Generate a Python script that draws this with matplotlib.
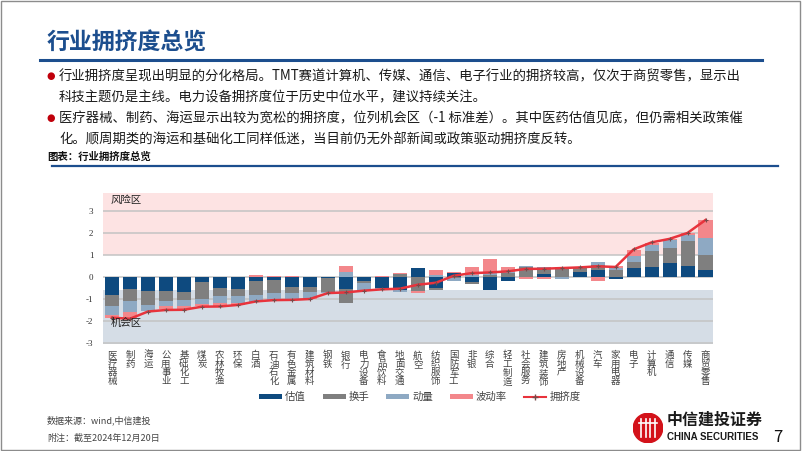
import numpy as np
import matplotlib
matplotlib.use("Agg")
import matplotlib.pyplot as plt
from matplotlib.patches import Rectangle, Circle, Patch
from matplotlib.lines import Line2D

plt.rcParams['font.family'] = ['Noto Sans CJK SC', 'DejaVu Sans']

industries = ["医疗器械", "制药", "海运", "公用事业", "基础化工", "煤炭", "农林牧渔", "环保",
              "白酒", "石油石化", "有色金属", "建筑材料", "钢铁", "银行", "电力设备", "食品饮料",
              "地面交通", "航空", "纺织服饰", "国防军工", "非银", "综合", "轻工制造", "社会服务",
              "建筑装饰", "房地产", "机械设备", "汽车", "家用电器", "电子", "计算机", "通信",
              "传媒", "商贸零售"]

valuation = [-0.83, -0.55, -0.65, -0.65, -0.68, -0.22, -0.50, -0.53,
             -0.20, -0.15, -0.46, -0.46, -0.03, -0.55, -0.20, -0.50,
             -0.58, 0.41, -0.50, 0.18, -0.24, -0.61, -0.20, 0.02,
             0.15, 0.00, 0.21, 0.33, -0.09, 0.41, 0.44, 0.64,
             0.49, 0.33]
turnover = [-0.48, -0.56, -0.62, -0.46, -0.35, -0.80, -0.38, -0.35,
            -0.61, -0.58, -0.27, -0.20, -0.67, -0.64, -0.08, -0.02,
            0.12, -0.65, -0.08, -0.06, -0.06, 0.10, 0.18, 0.45,
            0.27, 0.41, 0.20, 0.23, 0.30, 0.26, 0.73, 0.68,
            1.14, 0.68]
momentum = [-0.41, -0.46, -0.27, -0.20, -0.31, -0.20, -0.31, -0.28,
            -0.32, -0.30, -0.30, -0.30, -0.03, 0.23, -0.30, -0.08,
            -0.12, 0.00, 0.10, -0.12, 0.10, 0.08, 0.05, 0.02,
            0.02, -0.08, 0.03, 0.11, 0.12, 0.27, 0.30, 0.35,
            0.30, 0.76]
volatility = [-0.15, -0.30, 0.00, -0.15, -0.12, -0.12, -0.15, -0.10,
              0.10, 0.03, 0.05, -0.04, 0.00, 0.26, 0.00, 0.06,
              0.06, -0.08, 0.23, 0.04, 0.36, 0.64, 0.22, -0.09,
              -0.08, 0.07, 0.00, -0.20, 0.10, 0.30, 0.10, 0.05,
              0.07, 0.81]
crowding = [-1.85, -1.90, -1.57, -1.50, -1.49, -1.35, -1.34, -1.27,
            -1.11, -1.05, -1.04, -1.00, -0.73, -0.70, -0.62, -0.56,
            -0.53, -0.35, -0.26, 0.06, 0.18, 0.21, 0.26, 0.37,
            0.38, 0.41, 0.44, 0.49, 0.46, 1.26, 1.58, 1.74,
            2.01, 2.60]

series_names = ["估值", "换手", "动量", "波动率"]
series_colors = ["#0e4a7f", "#7f7f7f", "#8ea9c3", "#f3878b"]
line_color = "#e8333c"

W, H = 802, 451
fig = plt.figure(figsize=(W / 100, H / 100), dpi=100)


def fx(x):
    return x / W


def fy(y):
    return 1 - y / H


# slide frame
fig.patches.append(Rectangle((0.001, 0.002), 0.997, 0.996, transform=fig.transFigure,
                             fill=False, edgecolor="#8c8c8c", lw=1.0))

# title + rule
fig.text(fx(47), fy(43), "行业拥挤度总览", fontsize=16.5, fontweight="bold",
         color="#1c4e8e", va="center", ha="left")
fig.add_artist(Line2D([fx(40), fx(762)], [fy(60), fy(60)], color="#1c4e8e", lw=2.2))

# bullet text
bullets = [
    (76, True, "行业拥挤度呈现出明显的分化格局。TMT赛道计算机、传媒、通信、电子行业的拥挤较高，仅次于商贸零售，显示出"),
    (97, False, "科技主题仍是主线。电力设备拥挤度位于历史中位水平，建议持续关注。"),
    (118, True, "医疗器械、制药、海运显示出较为宽松的拥挤度，位列机会区（-1 标准差）。其中医药估值见底，但仍需相关政策催"),
    (139, False, "化。顺周期类的海运和基础化工同样低迷，当目前仍无外部新闻或政策驱动拥挤度反转。"),
]
for y, dot, txt in bullets:
    if dot:
        fig.text(fx(51), fy(y), "●", fontsize=7, color="#c0000b", va="center", ha="center",
                 family=["DejaVu Sans"])
    fig.text(fx(59), fy(y), txt, fontsize=9.6, color="#1a1a1a", va="center", ha="left")

fig.text(fx(47), fy(157), "图表：行业拥挤度总览", fontsize=7.5, fontweight="bold",
         color="#111111", va="center", ha="left")
fig.add_artist(Line2D([fx(52), fx(778)], [fy(166), fy(166)], color="#1c4e8e", lw=1.6))

# chart
ax = fig.add_axes([fx(103), fy(344), fx(712.7) - fx(103), fy(193) - fy(344)])
ymin, ymax = -3.05, 3.83
ax.set_ylim(ymin, ymax)
ax.set_xlim(-0.5, len(industries) - 0.6)

ax.axhspan(1, ymax, color="#fde3e3", zorder=0, lw=0)
ax.axhspan(ymin, -0.6, color="#d5dde6", zorder=0, lw=0)
for yv in range(-3, 4):
    ax.axhline(yv, color="#c3c3c3", lw=1.1, zorder=1)

x = np.arange(len(industries))
pos_base = np.zeros(len(x))
neg_base = np.zeros(len(x))
for name, vals, col in zip(series_names, [valuation, turnover, momentum, volatility], series_colors):
    v = np.array(vals)
    base = np.where(v >= 0, pos_base, neg_base)
    ax.bar(x, v, bottom=base, width=0.78, color=col, label=name, zorder=3)
    pos_base = pos_base + np.clip(v, 0, None)
    neg_base = neg_base + np.clip(v, None, 0)

ax.plot(x, crowding, color=line_color, lw=1.8, marker="+", markersize=3.5,
        markeredgecolor="#7a4a4a", markeredgewidth=0.8, zorder=5, label="拥挤度")

ax.text(0.012, 0.955, "风险区", transform=ax.transAxes, fontsize=7.5, color="#222222",
        va="center", ha="left", zorder=6)
ax.text(0.012, 0.14, "机会区", transform=ax.transAxes, fontsize=7.5, color="#222222",
        va="center", ha="left", zorder=6)

ax.set_yticks(range(-3, 4))
ax.set_yticklabels([str(v) for v in range(-3, 4)], fontsize=6.5, color="#333333",
                   family=["Liberation Serif"])
ax.set_xticks(x)
ax.set_xticklabels(["\n".join(s) for s in industries], fontsize=6.8, color="#444444",
                   linespacing=0.95)
ax.tick_params(axis="both", length=0)
ax.tick_params(axis="y", pad=7)
ax.tick_params(axis="x", pad=5)
for sp in ax.spines.values():
    sp.set_visible(False)

handles = [Patch(facecolor=c, label=n) for n, c in zip(series_names, series_colors)]
handles.append(Line2D([0], [0], color=line_color, lw=1.5, marker="+", markersize=4,
                      markeredgecolor="#7a4a4a", label="拥挤度"))
fig.legend(handles=handles, loc="center", bbox_to_anchor=(fx(420), fy(397)), ncol=5,
           frameon=False, fontsize=7.5, handlelength=2.2, handleheight=0.45,
           columnspacing=1.6, handletextpad=0.3, labelcolor="#444444")

# footer
fig.text(fx(47), fy(420), "数据来源：wind,中信建投", fontsize=6.5, style="italic",
         color="#444444", va="center", ha="left")
fig.text(fx(47), fy(438), "附注：截至2024年12月20日", fontsize=6.5, style="italic",
         color="#444444", va="center", ha="left")

# logo
logo = fig.add_axes([fx(633), fy(443), fx(663) - fx(633), fy(413) - fy(443)])
logo.set_xlim(-1, 1)
logo.set_ylim(-1, 1)
logo.set_aspect("equal")
logo.axis("off")
logo.add_patch(Circle((0, 0), 0.98, color="#d3121a"))
for lx in (-0.45, -0.15, 0.15, 0.45):
    logo.plot([lx, lx], [-0.6, 0.6], color="white", lw=1.2)
logo.plot([-0.6, 0.6], [0.35, 0.35], color="white", lw=1.2)
fig.text(fx(667), fy(420), "中信建投证券", fontsize=11.5, fontweight="bold",
         color="#1a1a1a", va="center", ha="left")
fig.text(fx(667), fy(437), "CHINA SECURITIES", fontsize=7, fontweight="bold",
         color="#1a1a1a", va="center", ha="left", family=["Liberation Sans"])
fig.text(fx(778), fy(437), "7", fontsize=12, color="#111111", va="center", ha="center")

fig.savefig("out.png", dpi=100)
